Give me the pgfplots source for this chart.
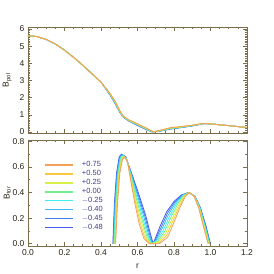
\documentclass[border=0pt]{standalone}
\usepackage{fontspec}
\setmainfont{Liberation Sans}
\usepackage{pgfplots}
\pgfplotsset{compat=1.18}
\usepackage{pgfplotstable}
\definecolor{axc}{RGB}{125,110,75}
\definecolor{tlc}{RGB}{40,34,20}
\definecolor{legtxt}{RGB}{60,60,140}
\definecolor{ca}{RGB}{242,160,90}
\definecolor{cb}{RGB}{248,200,64}
\definecolor{cc}{RGB}{216,240,72}
\definecolor{cd}{RGB}{112,240,144}
\definecolor{ce}{RGB}{64,240,240}
\definecolor{cf}{RGB}{64,184,240}
\definecolor{cg}{RGB}{64,128,240}
\definecolor{ch}{RGB}{72,88,236}

\pgfplotstableread{
r c1 c2 c3 c4 c5 c6 c7 c8
0.00 5.62 5.62 5.62 5.62 5.62 5.62 5.62 5.62
0.05 5.56 5.56 5.56 5.56 5.56 5.56 5.56 5.56
0.10 5.39 5.39 5.39 5.39 5.39 5.39 5.39 5.39
0.15 5.13 5.13 5.13 5.13 5.13 5.13 5.13 5.13
0.20 4.77 4.77 4.77 4.77 4.77 4.77 4.77 4.77
0.25 4.35 4.35 4.35 4.35 4.35 4.35 4.35 4.35
0.30 3.89 3.89 3.89 3.89 3.89 3.89 3.89 3.89
0.35 3.40 3.40 3.40 3.40 3.40 3.40 3.40 3.40
0.40 2.90 2.90 2.90 2.90 2.90 2.90 2.90 2.90
0.45 2.25 2.24 2.22 2.21 2.19 2.18 2.16 2.15
0.48 1.75 1.73 1.71 1.68 1.66 1.64 1.62 1.60
0.50 1.30 1.29 1.27 1.26 1.24 1.23 1.21 1.20
0.52 0.95 0.94 0.93 0.92 0.91 0.90 0.89 0.88
0.55 0.72 0.71 0.70 0.69 0.68 0.67 0.66 0.65
0.60 0.48 0.47 0.45 0.44 0.42 0.41 0.39 0.38
0.65 0.22 0.21 0.19 0.18 0.17 0.15 0.14 0.13
0.68 0.05 0.04 0.04 0.03 0.02 0.01 0.01 0.00
0.69 0.00 0.00 0.01 0.01 0.01 0.02 0.02 0.02
0.73 0.12 0.11 0.10 0.09 0.08 0.08 0.07 0.06
0.78 0.25 0.24 0.23 0.21 0.20 0.19 0.18 0.17
0.85 0.33 0.32 0.31 0.30 0.29 0.29 0.28 0.27
0.90 0.40 0.39 0.39 0.38 0.37 0.36 0.36 0.35
0.96 0.50 0.50 0.49 0.49 0.49 0.49 0.48 0.48
1.00 0.47 0.47 0.47 0.47 0.47 0.47 0.47 0.47
1.10 0.37 0.37 0.37 0.37 0.37 0.37 0.37 0.37
1.20 0.26 0.26 0.26 0.26 0.26 0.26 0.26 0.26
}\toptab

\pgfplotsset{
  myax/.style={
    scale only axis, width=219pt, height=106pt,
    xmin=0, xmax=1.2,
    axis line style={axc, line width=0.8pt},
    tick style={axc, line width=0.6pt},
    major tick length=4pt, minor tick length=2pt,
    tick align=inside,
    xtick={0,0.2,0.4,0.6,0.8,1.0,1.2}, minor x tick num=3,
    ticklabel style={font=\fontsize{8.5}{9}\selectfont, text=tlc},
    label style={font=\fontsize{8.5}{9}\selectfont, text=tlc},
    /pgf/number format/assume math mode=true,
    every axis plot/.append style={line width=0.8pt, line join=round},
    ylabel style={at={(axis description cs:-0.095,0.5)}, anchor=center},
  }
}

\begin{document}
\begin{tikzpicture}
\path[use as bounding box] (0,0) rectangle (274pt,274pt);
\begin{axis}[myax, at={(28pt,141pt)}, anchor=south west,
  ymin=-0.06, ymax=6.12, ytick={0,1,2,3,4,5,6}, minor y tick num=9,
  xticklabels={}, ylabel={B\textsubscript{pol}}]
\addplot[ch] table[x=r,y=c8] {\toptab};
\addplot[cg] table[x=r,y=c7] {\toptab};
\addplot[cf] table[x=r,y=c6] {\toptab};
\addplot[ce] table[x=r,y=c5] {\toptab};
\addplot[cd] table[x=r,y=c4] {\toptab};
\addplot[cc] table[x=r,y=c3] {\toptab};
\addplot[cb] table[x=r,y=c2] {\toptab};
\addplot[ca] table[x=r,y=c1] {\toptab};
\end{axis}
\begin{axis}[myax, at={(28pt,28pt)}, anchor=south west,
  ymin=-0.018, ymax=0.81, ytick={0,0.2,0.4,0.6,0.8}, minor y tick num=1,
  yticklabel style={/pgf/number format/.cd, fixed, fixed zerofill, precision=1},
  xticklabel style={/pgf/number format/.cd, fixed, fixed zerofill, precision=1},
  ylabel={B\textsubscript{tor}}, xlabel={r},
  xlabel style={at={(axis description cs:0.5,-0.19)}, anchor=center},
  reverse legend,
  legend style={draw=none, fill=none, at={(axis cs:0.07,0.665)}, anchor=north west,
    font=\fontsize{7.5}{8}\selectfont, row sep=0.6pt,
    nodes={text=legtxt, inner sep=0.8pt}},
  legend cell align=left,
  legend image code/.code={\draw[#1, line width=1.6pt] (0pt,0pt) -- (28pt,0pt); \path (36pt,0pt);}]
\addplot[ch] coordinates {(0.465,0)(0.473,0.30)(0.485,0.55)(0.500,0.68)(0.513,0.70)(0.535,0.68)(0.568,0.55)(0.604,0.40)(0.645,0.22)(0.670,0.08)(0.686,0)(0.697,0.04)(0.725,0.14)(0.760,0.25)(0.800,0.33)(0.840,0.38)(0.880,0.40)(0.915,0.37)(0.945,0.28)(0.975,0.14)(1.000,0)};
\addlegendentry{$-$0.48}
\addplot[cg] coordinates {(0.467,0)(0.475,0.30)(0.487,0.55)(0.502,0.678)(0.515,0.697)(0.536,0.675)(0.567,0.544)(0.602,0.389)(0.641,0.212)(0.666,0.075)(0.684,0)(0.700,0.035)(0.730,0.129)(0.764,0.238)(0.804,0.325)(0.843,0.379)(0.881,0.40)(0.914,0.37)(0.944,0.28)(0.973,0.14)(0.998,0)};
\addlegendentry{$-$0.45}
\addplot[cf] coordinates {(0.469,0)(0.477,0.30)(0.490,0.55)(0.505,0.675)(0.517,0.694)(0.538,0.67)(0.567,0.538)(0.600,0.378)(0.636,0.203)(0.661,0.07)(0.681,0)(0.703,0.03)(0.735,0.118)(0.769,0.225)(0.809,0.32)(0.846,0.378)(0.881,0.40)(0.914,0.37)(0.943,0.28)(0.971,0.14)(0.997,0)};
\addlegendentry{$-$0.40}
\addplot[ce] coordinates {(0.471,0)(0.480,0.30)(0.492,0.55)(0.507,0.672)(0.520,0.69)(0.539,0.664)(0.566,0.53)(0.597,0.364)(0.631,0.192)(0.656,0.064)(0.678,0)(0.706,0.024)(0.741,0.104)(0.774,0.21)(0.814,0.314)(0.849,0.376)(0.882,0.40)(0.913,0.37)(0.941,0.28)(0.969,0.14)(0.995,0)};
\addlegendentry{$-$0.25}
\addplot[cd] coordinates {(0.473,0)(0.482,0.30)(0.495,0.55)(0.510,0.669)(0.522,0.686)(0.541,0.658)(0.565,0.523)(0.594,0.351)(0.626,0.182)(0.651,0.058)(0.675,0)(0.710,0.018)(0.747,0.091)(0.779,0.195)(0.819,0.308)(0.852,0.375)(0.883,0.40)(0.912,0.37)(0.940,0.28)(0.967,0.14)(0.993,0)};
\addlegendentry{+0.00}
\addplot[cc] coordinates {(0.476,0)(0.485,0.30)(0.498,0.55)(0.513,0.666)(0.525,0.683)(0.542,0.652)(0.564,0.515)(0.591,0.337)(0.621,0.171)(0.646,0.052)(0.671,0)(0.713,0.012)(0.753,0.077)(0.785,0.18)(0.825,0.302)(0.855,0.373)(0.884,0.40)(0.912,0.37)(0.938,0.28)(0.965,0.14)(0.991,0)};
\addlegendentry{+0.25}
\addplot[cb] coordinates {(0.478,0)(0.487,0.30)(0.500,0.55)(0.515,0.663)(0.527,0.679)(0.544,0.646)(0.563,0.508)(0.589,0.324)(0.615,0.161)(0.640,0.046)(0.668,0)(0.717,0.006)(0.759,0.064)(0.790,0.165)(0.830,0.296)(0.859,0.372)(0.884,0.40)(0.911,0.37)(0.937,0.28)(0.962,0.14)(0.989,0)};
\addlegendentry{+0.50}
\addplot[ca] coordinates {(0.480,0)(0.490,0.30)(0.503,0.55)(0.518,0.66)(0.530,0.675)(0.545,0.64)(0.562,0.50)(0.586,0.31)(0.610,0.15)(0.635,0.04)(0.665,0)(0.720,0)(0.765,0.05)(0.795,0.15)(0.835,0.29)(0.862,0.37)(0.885,0.40)(0.910,0.37)(0.935,0.28)(0.960,0.14)(0.987,0)};
\addlegendentry{+0.75}
\end{axis}
\end{tikzpicture}
\end{document}
